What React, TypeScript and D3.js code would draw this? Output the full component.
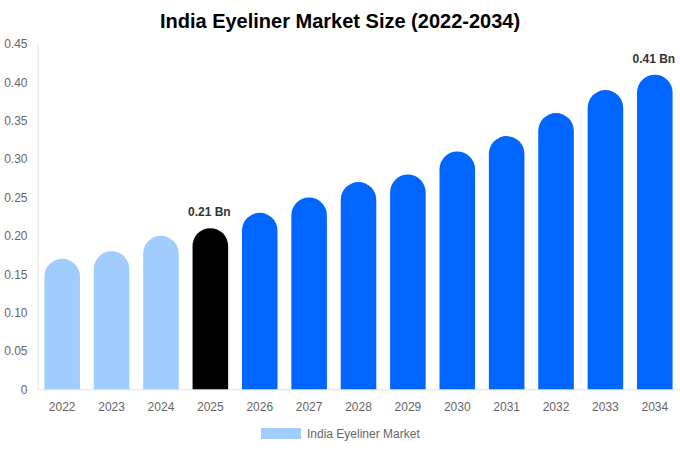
import React, { useEffect, useRef } from 'react';
import * as d3 from 'd3';

const years = ['2022', '2023', '2024', '2025', '2026', '2027', '2028', '2029', '2030', '2031', '2032', '2033', '2034'];
const values = [0.17, 0.18, 0.2, 0.21, 0.23, 0.25, 0.27, 0.28, 0.31, 0.33, 0.36, 0.39, 0.41];
const yTicks = [0, 0.05, 0.1, 0.15, 0.2, 0.25, 0.3, 0.35, 0.4, 0.45];
const labelled: Record<string, string> = { '2025': '0.21 Bn', '2034': '0.41 Bn' };
const seriesName = 'India Eyeliner Market';

const width = 680;
const height = 450;

const App: React.FC = () => {
    const svgRef = useRef<SVGSVGElement>(null);

    useEffect(() => {
        if (!svgRef.current) return;
        const svg = d3.select(svgRef.current);
        svg.selectAll('*').remove();

        const margin = { top: 44, right: 0.5, bottom: 60.7, left: 37.5 };
        const font = '"Liberation Sans", Arial, sans-serif';

        const x = d3.scaleBand<string>()
            .domain(years)
            .range([margin.left, width - margin.right])
            .paddingInner(0.28)
            .paddingOuter(0.14);

        const y = d3.scaleLinear()
            .domain([0, 0.45])
            .range([height - margin.bottom, margin.top]);

        // Title
        svg.append('text')
            .attr('x', width / 2)
            .attr('y', 28)
            .attr('text-anchor', 'middle')
            .style('font-family', font)
            .style('font-size', '20px')
            .style('font-weight', 'bold')
            .style('fill', '#000')
            .text('India Eyeliner Market Size (2022-2034)');

        // Y axis
        const yAxis = svg.append('g')
            .attr('transform', `translate(${margin.left},0)`)
            .call(d3.axisLeft(y).tickValues(yTicks).tickSize(0).tickPadding(10)
                .tickFormat(d => (+d === 0 ? '0' : d3.format('.2f')(+d))));
        yAxis.select('.domain').attr('stroke', '#e0e0e0');
        yAxis.selectAll('text')
            .style('font-family', font)
            .style('font-size', '12px')
            .style('fill', '#666');

        // X axis
        const xAxis = svg.append('g')
            .attr('transform', `translate(0,${y(0)})`)
            .call(d3.axisBottom(x).tickSize(0).tickPadding(13));
        xAxis.select('.domain').attr('stroke', '#e0e0e0');
        xAxis.selectAll('text')
            .style('font-family', font)
            .style('font-size', '12px')
            .style('fill', '#666');

        const colorFor = (yr: string) => {
            const n = +yr;
            if (n < 2025) return '#a0cdfc';
            if (n === 2025) return '#000000';
            return '#0066ff';
        };

        // Bars with rounded tops
        const bw = x.bandwidth();
        const r = bw / 2;
        svg.append('g')
            .selectAll('path')
            .data(years)
            .join('path')
            .attr('fill', d => colorFor(d))
            .attr('d', (d, i) => {
                const x0 = x(d)!;
                const yTop = y(values[i]);
                const yBase = y(0);
                return `M${x0},${yBase} L${x0},${yTop + r} A${r},${r} 0 0 1 ${x0 + bw},${yTop + r} L${x0 + bw},${yBase} Z`;
            });

        // Value labels
        svg.append('g')
            .selectAll('text')
            .data(years.filter(d => labelled[d]))
            .join('text')
            .attr('x', d => x(d)! + bw / 2 - 1)
            .attr('y', d => y(values[years.indexOf(d)]) - 12)
            .attr('text-anchor', 'middle')
            .style('font-family', font)
            .style('font-size', '12px')
            .style('font-weight', 'bold')
            .style('fill', '#333')
            .text(d => labelled[d]);

        // Legend
        const legend = svg.append('g').attr('transform', 'translate(261,428)');
        legend.append('rect')
            .attr('width', 40)
            .attr('height', 11)
            .attr('fill', '#a0cdfc');
        legend.append('text')
            .attr('x', 46)
            .attr('y', 9.5)
            .style('font-family', font)
            .style('font-size', '12px')
            .style('fill', '#666')
            .text(seriesName);
    }, []);

    return (
        <svg
            ref={svgRef}
            width={width}
            height={height}
            style={{ position: 'absolute', left: 0, top: 0, background: '#fff' }}
        />
    );
};

export default App;
